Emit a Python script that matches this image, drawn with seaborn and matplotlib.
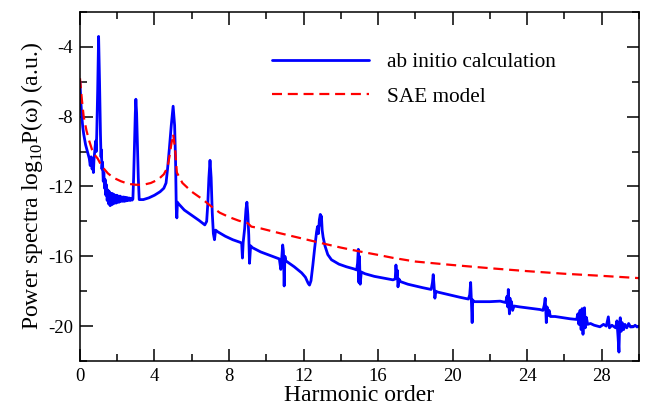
import matplotlib
matplotlib.use("Agg")
import matplotlib.pyplot as plt
from matplotlib.ticker import MultipleLocator
import seaborn as sns
import pandas as pd

# ab initio spectrum
blue_x = [0.00, 0.05, 0.10, 0.15, 0.20, 0.30, 0.40, 0.50, 0.55, 0.60, 0.65, 0.70, 0.72, 0.75,
          0.80, 0.84, 0.87, 0.90, 0.95, 1.00, 1.05, 1.10, 1.13, 1.15, 1.18, 1.21, 1.25, 1.28,
          1.32, 1.35, 1.39, 1.42, 1.46, 1.50, 1.54, 1.58, 1.62, 1.66, 1.70, 1.74, 1.78, 1.82,
          1.86, 1.90, 1.94, 1.98, 2.02, 2.06, 2.10, 2.15, 2.20, 2.25, 2.30, 2.35, 2.40, 2.45,
          2.50, 2.55, 2.60, 2.65, 2.70, 2.75, 2.80, 2.84, 2.88, 2.93, 2.97, 3.00, 3.04, 3.08,
          3.13, 3.18, 3.40, 3.70, 4.00, 4.30, 4.50, 4.62, 4.70, 4.80, 4.90, 5.00, 5.08, 5.13,
          5.17, 5.20, 5.23, 5.30, 5.60, 6.00, 6.40, 6.70, 6.80, 6.86, 6.92, 6.98, 7.04, 7.10,
          7.16, 7.22, 7.28, 7.40, 7.80, 8.20, 8.60, 8.68, 8.72, 8.76, 8.84, 8.91, 8.96, 9.01,
          9.06, 9.10, 9.16, 9.25, 9.70, 10.20, 10.70, 10.78, 10.83, 10.88, 10.92, 10.96, 11.00,
          11.05, 11.10, 11.50, 11.90, 12.10, 12.25, 12.32, 12.40, 12.50, 12.60, 12.70, 12.75,
          12.80, 12.85, 12.90, 12.93, 12.96, 13.00, 13.05, 13.15, 13.30, 13.50, 13.90, 14.30,
          14.70, 14.85, 14.90, 14.94, 14.97, 15.00, 15.04, 15.10, 15.30, 15.80, 16.30, 16.80,
          16.92, 16.96, 17.00, 17.03, 17.07, 17.12, 17.20, 17.60, 18.00, 18.40, 18.85, 18.92,
          18.96, 19.00, 19.05, 19.10, 19.20, 19.60, 20.00, 20.40, 20.85, 20.92, 20.97, 21.00,
          21.05, 21.08, 21.15, 21.50, 22.00, 22.55, 22.85, 22.92, 22.96, 22.99, 23.02, 23.05,
          23.08, 23.12, 23.16, 23.22, 23.30, 23.60, 23.97, 24.30, 24.69, 24.85, 24.92, 24.97,
          25.00, 25.03, 25.07, 25.12, 25.18, 25.25, 25.50, 25.94, 26.30, 26.66, 26.72, 26.78,
          26.84, 26.90, 26.95, 27.00, 27.04, 27.08, 27.12, 27.18, 27.25, 27.40, 27.60, 27.91,
          28.10, 28.25, 28.36, 28.42, 28.55, 28.75, 28.82, 28.88, 28.93, 28.97, 29.00, 29.05,
          29.10, 29.18, 29.25, 29.35, 29.45, 29.55, 29.70, 29.80, 29.90, 30.00]
blue_y = [-6.0, -7.2, -8.0, -8.6, -9.0, -9.6, -10.0, -10.4, -10.8, -10.3, -11.0, -10.6, -11.2, -10.5,
          -9.9, -9.4, -10.0, -9.0, -6.5, -3.4, -6.0, -9.0, -10.3, -9.9, -11.0, -10.6, -11.7, -11.2,
          -12.1, -11.6, -12.5, -11.9, -12.8, -12.2, -13.0, -12.3, -13.1, -12.4, -13.05, -12.4, -13.0, -12.45,
          -12.95, -12.5, -12.95, -12.5, -12.9, -12.55, -12.9, -12.55, -12.85, -12.6, -12.85, -12.6, -12.85, -12.62,
          -12.82, -12.64, -12.8, -12.66, -12.8, -12.68, -12.78, -12.72, -11.5, -9.5, -7.8, -7.0, -7.8, -9.5,
          -11.5, -12.75, -12.75, -12.65, -12.5, -12.3, -12.1, -11.8, -11.0, -9.8, -8.5, -7.4, -8.5, -10.5,
          -13.3, -13.8, -12.9, -13.0, -13.35, -13.65, -13.95, -14.2, -14.0, -13.0, -11.5, -10.5, -11.5, -13.5,
          -14.7, -15.05, -14.5, -14.6, -14.85, -15.05, -15.2, -15.25, -16.1, -15.2, -14.4, -13.3, -12.9, -13.6,
          -14.8, -16.4, -15.4, -15.5, -15.75, -15.95, -16.15, -16.75, -16.1, -15.35, -15.7, -17.7, -16.0,
          -16.3, -16.3, -16.6, -16.95, -17.2, -17.55, -17.65, -17.4, -16.5, -15.5, -14.6, -14.3,
          -14.7, -13.9, -13.6, -14.2, -13.7, -14.5, -14.9, -15.4, -15.9, -16.2, -16.45, -16.6,
          -16.72, -16.78, -16.4, -15.6, -17.5, -16.0, -17.6, -16.9, -17.0, -17.15, -17.25, -17.35,
          -17.3, -16.5, -17.1, -16.8, -17.75, -17.3, -17.45, -17.6, -17.7, -17.8, -17.9, -17.5,
          -17.05, -17.6, -18.4, -18.0, -18.05, -18.15, -18.25, -18.35, -18.45, -18.2, -17.5, -18.3,
          -19.8, -18.5, -18.6, -18.6, -18.6, -18.57, -18.65, -18.3, -18.9, -17.9, -18.6, -19.3,
          -18.4, -19.0, -18.6, -19.1, -18.85, -18.9, -18.95, -19.0, -19.05, -19.1, -18.8, -18.4,
          -19.0, -19.8, -18.9, -19.4, -19.1, -19.45, -19.45, -19.52, -19.58, -19.62, -19.3, -19.9,
          -19.1, -20.2, -19.0, -20.47, -19.3, -18.95, -20.1, -19.5, -19.9, -19.85, -19.95, -20.04,
          -19.9, -20.0, -19.47, -20.1, -19.95, -20.1, -19.7, -20.6, -21.49, -19.8, -19.52, -20.3,
          -19.8, -20.2, -19.9, -20.1, -19.85, -20.05, -20.04, -19.95, -20.05, -20.0]

# SAE model curve
red_x = [0.00, 0.10, 0.20, 0.35, 0.50, 0.65, 0.80, 0.95, 1.10, 1.30, 1.50, 1.80, 2.20, 2.60,
         3.00, 3.40, 3.80, 4.20, 4.50, 4.70, 4.80, 4.90, 5.00, 5.10, 5.20, 5.50, 6.00, 6.60,
         7.00, 7.50, 8.00, 8.50, 8.80, 9.00, 9.20, 9.70, 10.70, 12.00, 12.90, 14.00, 15.00,
         16.00, 16.80, 18.00, 20.00, 22.20, 24.00, 26.00, 28.00, 30.00]
red_y = [-5.8, -7.0, -8.0, -8.8, -9.4, -9.9, -10.2, -10.4, -10.7, -11.0, -11.25, -11.5, -11.7, -11.85,
         -11.9, -11.9, -11.8, -11.6, -11.3, -10.9, -10.3, -9.6, -9.0, -9.8, -11.2, -11.8, -12.3, -12.75,
         -13.1, -13.5, -13.75, -13.95, -14.05, -14.1, -14.3, -14.4, -14.67, -15.0, -15.23, -15.5, -15.72,
         -15.92, -16.09, -16.3, -16.5, -16.7, -16.85, -17.0, -17.12, -17.25]

sns.set_style("ticks")
plt.rcParams['font.family'] = ['Liberation Serif', 'DejaVu Serif']
plt.rcParams['mathtext.fontset'] = 'custom'
plt.rcParams['mathtext.rm'] = 'Liberation Serif'
plt.rcParams['axes.unicode_minus'] = False
plt.rcParams['text.color'] = 'black'
plt.rcParams['axes.labelcolor'] = 'black'
plt.rcParams['xtick.color'] = 'black'
plt.rcParams['ytick.color'] = 'black'
plt.rcParams['axes.edgecolor'] = 'black'

df_blue = pd.DataFrame({'x': blue_x, 'y': blue_y})
df_red = pd.DataFrame({'x': red_x, 'y': red_y})

fig = plt.figure(figsize=(6.46, 4.08), dpi=100)
ax = fig.add_axes([0.1238, 0.1152, 0.8652, 0.8554])

sns.lineplot(data=df_blue, x='x', y='y', ax=ax, color='#0000ff', lw=2.0,
             estimator=None, sort=False, label='ab initio calculation')
sns.lineplot(data=df_red, x='x', y='y', ax=ax, color='#ff0000', lw=1.6,
             estimator=None, sort=False, label='SAE model', dashes=False)
ax.lines[1].set_dashes((4.5, 2.6))

ax.set_xlim(0, 30)
ax.set_ylim(-22, -2)
ax.xaxis.set_major_locator(MultipleLocator(4))
ax.xaxis.set_minor_locator(MultipleLocator(2))
ax.yaxis.set_major_locator(MultipleLocator(4))
ax.yaxis.set_minor_locator(MultipleLocator(2))
ax.tick_params(which='both', direction='in', top=True, right=True, width=1.1, labelsize=13.5)
ax.tick_params(which='major', length=9, pad=5)
ax.tick_params(which='minor', length=5)
for s in ax.spines.values():
    s.set_linewidth(1.1)

ax.set_xlabel('Harmonic order', fontsize=17, labelpad=0)
ax.set_ylabel('Power spectra log$_{10}$P(ω) (a.u.)', fontsize=17, labelpad=2)

leg = ax.legend(loc='upper left', bbox_to_anchor=(0.343, 0.885), frameon=False, fontsize=15.3,
                handlelength=4.6, handletextpad=0.85, labelspacing=0.7,
                borderpad=0, borderaxespad=0)
for t in leg.get_texts():
    t.set_color('black')

fig.savefig('out.png', dpi=100)
